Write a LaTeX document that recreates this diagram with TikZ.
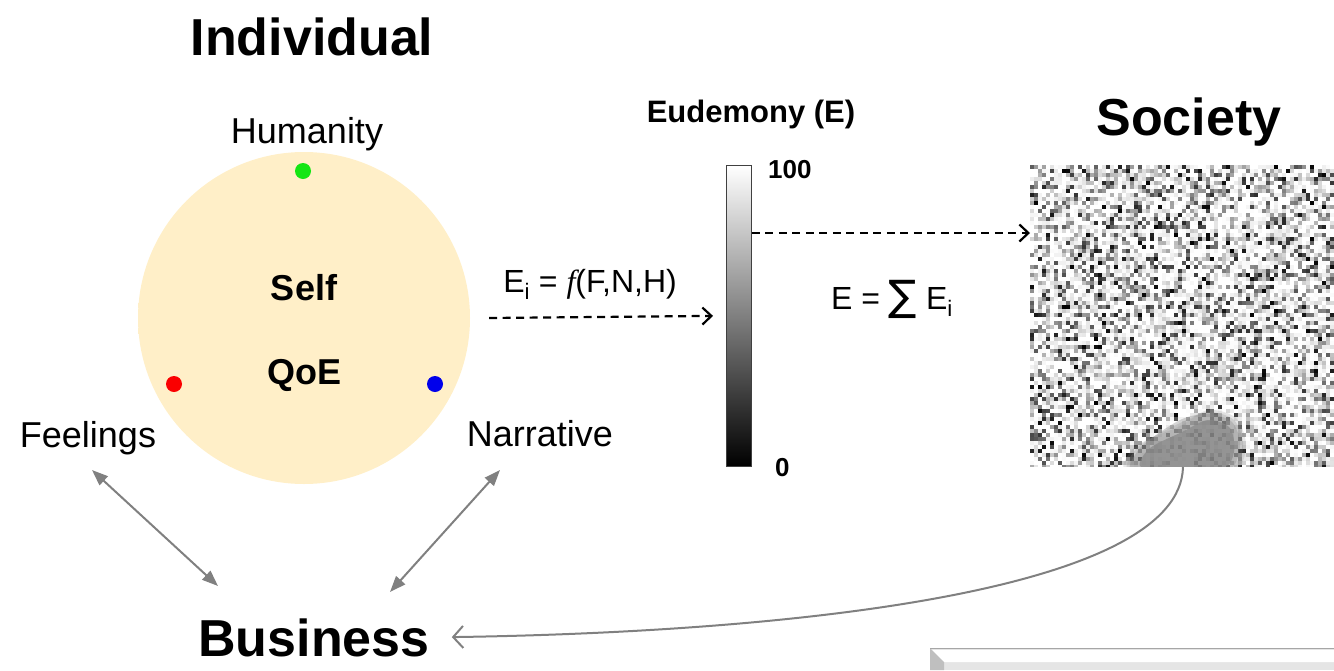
\documentclass[tikz,border=0pt]{standalone}
\usepackage{fontspec}
\setmainfont{Liberation Sans}
\newfontfamily\timesf{Liberation Serif}
\newfontfamily\djv{DejaVu Sans}
\usetikzlibrary{arrows.meta,calc}
\pgfdeclareradialshading{softdisc}{\pgfpoint{0bp}{0bp}}{rgb(0bp)=(1,0.937,0.784); rgb(47bp)=(1,0.937,0.784); rgb(50bp)=(1,1,1)}
\definecolor{dotgreen}{RGB}{20,230,20}
\definecolor{dotred}{RGB}{250,0,0}
\definecolor{dotblue}{RGB}{0,0,235}
\definecolor{arrgray}{RGB}{128,128,128}
\definecolor{blobgray}{RGB}{135,135,135}
\tikzset{
  lbl/.style={font=\fontsize{36}{40}\selectfont, anchor=base, inner sep=0pt},
  head/.style={font=\bfseries\fontsize{52}{56}\selectfont, anchor=base, inner sep=0pt},
  inbold/.style={font=\bfseries\fontsize{36}{40}\selectfont, anchor=base, inner sep=0pt},
  formula/.style={font=\fontsize{32}{34}\selectfont, anchor=base, inner sep=0pt},
  smallbold/.style={font=\bfseries\fontsize{31}{34}\selectfont, anchor=base, inner sep=0pt},
  tick/.style={font=\bfseries\fontsize{26}{30}\selectfont, anchor=base west, inner sep=0pt},
  dotnode/.style={circle, minimum size=16pt, inner sep=0pt},
  dasharrow/.style={dash pattern=on 8pt off 5.5pt, line width=2.2pt, -{Straight Barb[length=9pt,width=17pt,line width=2.2pt]}},
  grayarrow/.style={draw=arrgray, line width=2pt, {Triangle[length=16pt,width=12pt]}-{Triangle[length=16pt,width=12pt]}},
  curvearrow/.style={draw=arrgray, line width=2pt, -{Straight Barb[length=10pt,width=22pt,line width=2pt]}},
}
\begin{document}
\begin{tikzpicture}[x=1pt,y=-1pt]
\useasboundingbox (0,0) rectangle (1334,670);

% ---------- Individual ----------
\node[head] (indiv) at (312,55) {Individual};
\node[lbl] (hum) at (307,143) {Humanity};
\node[circle, minimum size=330pt, inner sep=0pt] (circ) at (304,318) {};
\shade[shading=softdisc] (circ.center) circle (166);
\node[dotnode, fill=dotgreen] (gdot) at (303,171) {};
\node[dotnode, fill=dotred] (rdot) at (174,384) {};
\node[dotnode, fill=dotblue] (bdot) at (435,384) {};
\node[inbold] (self) at (304,300) {Self};
\node[inbold] (qoe) at (304,384) {QoE};
\node[lbl] (feel) at (88,447) {Feelings};
\node[lbl] (narr) at (540,446) {Narrative};
\node[head] (bus) at (314,656) {Business};

% ---------- Eudemony scale ----------
\node[smallbold] (eud) at (751,122) {Eudemony (E)};
\node[anchor=north west, minimum width=25pt, minimum height=301pt, inner sep=0pt,
      draw=black!75, line width=0.8pt, top color=white, bottom color=black] (cbar) at (726,165) {};
\node[tick] (t100) at (768,178) {100};
\node[tick] (t0) at (775,476) {0};
\node[formula] (efn) at (590,292) {E\textsubscript{i} = {\timesf\itshape f}(F,N,H)};
\node[formula] (esum) at (892,309) {E = {\djv\fontsize{42}{42}\selectfont\raisebox{-1pt}{∑}} E\textsubscript{i}};

% ---------- Society ----------
\node[head] (soc title) at (1189,135) {Society};
\node[anchor=north west, minimum width=304pt, minimum height=301pt, inner sep=0pt] (soc) at (1030,165) {};
\begin{scope}
  \clip (soc.north west) rectangle (soc.south east);
  \fill[black!12] (soc.north west) rectangle (soc.south east);
  \pgfmathsetseed{7}
  \foreach \i in {0,...,75}{
    \foreach \j in {0,...,75}{
      \pgfmathsetmacro\g{int(100*rnd^3.4)}
      \fill[black!\g] (1030+4*\i,165+4*\j) rectangle ++(4.3,4.3);
    }
  }
  \foreach \k/\op in {0/0.2,1/0.25,2/0.35}{
    \fill[blobgray, opacity=\op] plot[smooth cycle] coordinates {(1124+3*\k,470) (1136+3*\k,446) (1180,426-\k*3) (1208,410+2*\k) (1236-\k*2,418+\k*2) (1246-3*\k,446) (1232-3*\k,472) (1160,474)};
  }
  \fill[blobgray, opacity=0.7] plot[smooth cycle] coordinates {(1140,466) (1150,448) (1182,432) (1208,420) (1230,428) (1234,452) (1222,468) (1165,470)};
\end{scope}

% ---------- connectors ----------
\coordinate (d1s) at ($(circ.east)+(20,0)$);
\draw[dasharrow] (d1s) -- ($(cbar.west)+(-13,0)$);
\coordinate (d2s) at ($(cbar.north east)+(0,68)$);
\draw[dasharrow] (d2s) -- (soc.west |- d2s);

\coordinate (fa) at (92,470);
\coordinate (fb) at (218,586);
\draw[grayarrow] (fa) -- (fb);
\coordinate (na) at (500,470);
\coordinate (nb) at (390,592);
\draw[grayarrow] (na) -- (nb);

\coordinate (cs) at (1183,467);
\draw[curvearrow, shorten >=22pt] (cs) .. controls (1180,590) and (800,632) .. (bus.east);

% ---------- bottom-right button ----------
\fill[black!10] (930,648) rectangle (1334,670);
\fill[white] (930,650) -- (944,662) -- (1334,662) -- (1334,650) -- cycle;
\fill[black!25] (930,648) -- (944,662) -- (944,670) -- (930,670) -- cycle;
\draw[black!35, line width=1pt] (930,648) -- (1334,648);
\end{tikzpicture}
\end{document}
